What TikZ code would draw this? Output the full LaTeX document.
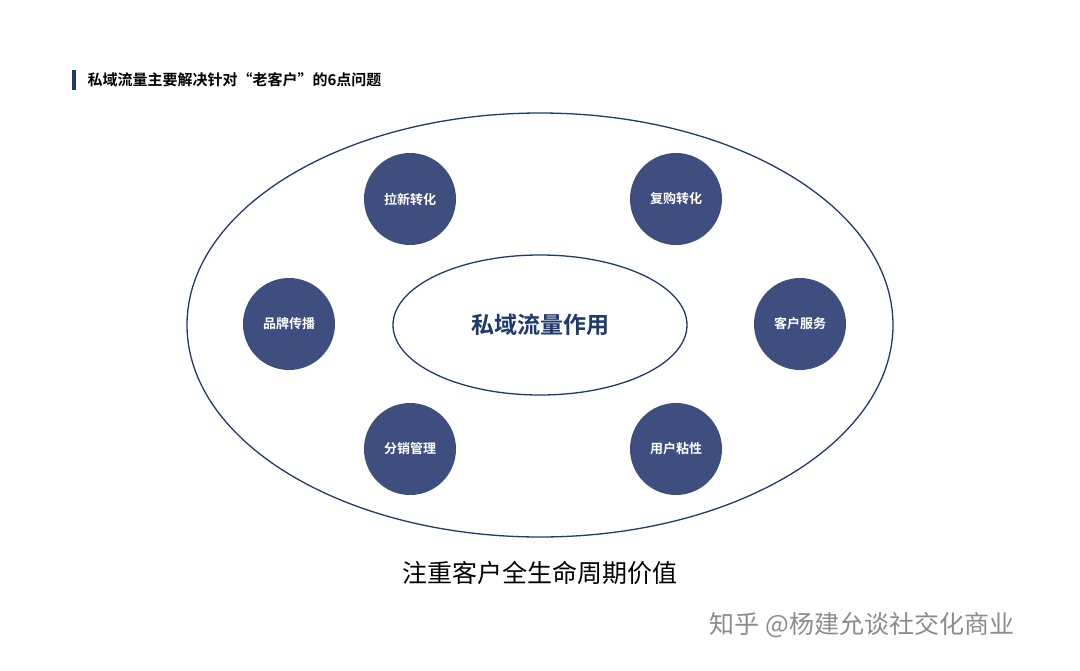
\documentclass[tikz,border=0pt]{standalone}
\usepackage{fontspec}
\newfontfamily\cjk{Noto Sans CJK SC}
\newfontfamily\cjkb{Noto Sans CJK SC Bold}
\definecolor{navy}{HTML}{3E4E7E}
\definecolor{deep}{HTML}{1F3A6E}
\begin{document}
\begin{tikzpicture}[x=1pt,y=-1pt,
  ring/.style={draw=deep,line width=1.3pt},
  dot/.style={circle,fill=navy,minimum size=92pt,inner sep=0pt,text=white,font=\cjkb\fontsize{13}{15}\selectfont}]
\useasboundingbox (0,0) rectangle (1080,670);
\fill[white] (0,0) rectangle (1080,670);
\fill[deep] (72,70) rectangle (76,90);
\node[anchor=west,font=\cjkb\fontsize{15}{18}\selectfont] (title) at (84,80) {私域流量主要解决针对“老客户”的6点问题};
\draw[ring] (540,325) ellipse [x radius=353, y radius=212];
\draw[ring] (540,325) ellipse [x radius=147, y radius=70];
\node[text=deep,font=\cjkb\fontsize{23}{26}\selectfont] (c) at (540,325) {私域流量作用};
\node[dot] (a1) at (410,199) {拉新转化};
\node[dot] (a2) at (676,199) {复购转化};
\node[dot] (a3) at (289,324) {品牌传播};
\node[dot] (a4) at (800,324) {客户服务};
\node[dot] (a5) at (410,449) {分销管理};
\node[dot] (a6) at (676,449) {用户粘性};
\node[font=\cjk\fontsize{25}{28}\selectfont] (b) at (540,573) {注重客户全生命周期价值};
\node[text=black!45,font=\cjk\fontsize{25}{28}\selectfont] (w) at (862,625) {知乎 @杨建允谈社交化商业};
\end{tikzpicture}
\end{document}
